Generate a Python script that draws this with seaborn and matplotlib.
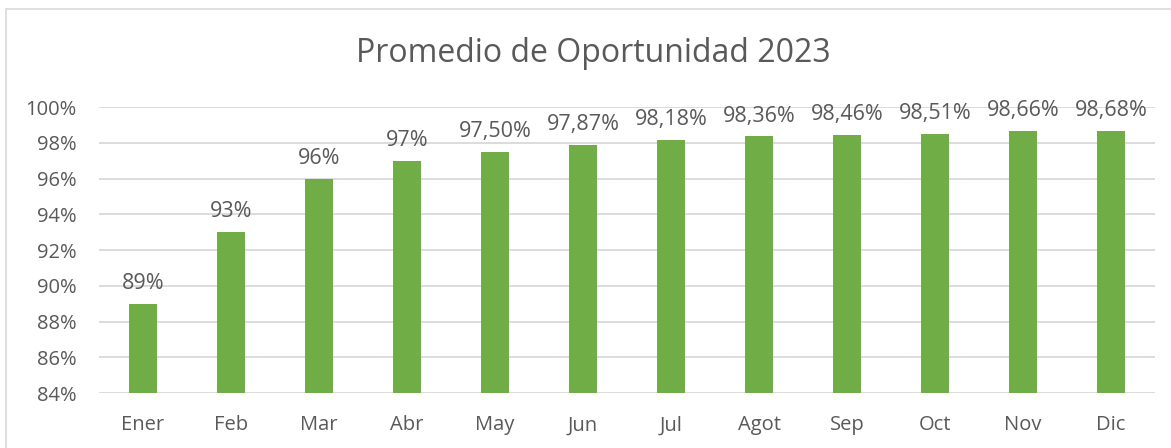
import matplotlib
matplotlib.use("Agg")
import matplotlib.pyplot as plt
import seaborn as sns
import pandas as pd
from matplotlib.patches import Rectangle

months = ["Ener", "Feb", "Mar", "Abr", "May", "Jun", "Jul", "Agot", "Sep", "Oct", "Nov", "Dic"]
values = [89.0, 93.0, 96.0, 97.0, 97.50, 97.87, 98.18, 98.36, 98.46, 98.51, 98.66, 98.68]
value_labels = ["89%", "93%", "96%", "97%", "97,50%", "97,87%", "98,18%", "98,36%",
                "98,46%", "98,51%", "98,66%", "98,68%"]
y_ticks = [84, 86, 88, 90, 92, 94, 96, 98, 100]
y_tick_labels = ["84%", "86%", "88%", "90%", "92%", "94%", "96%", "98%", "100%"]
title = "Promedio de Oportunidad 2023"

sns.set_theme(style="white")
plt.rcParams["font.family"] = ["Open Sans", "DejaVu Sans"]

TEXT = "#595959"
GRID = "#d9d9d9"
BAR = "#70ad47"

df = pd.DataFrame({"mes": months, "valor": values})

fig = plt.figure(figsize=(11.71, 4.48), dpi=100)
ax = fig.add_axes([99 / 1171, 1 - 393 / 448, (1155 - 99) / 1171, (393 - 107) / 448])

sns.barplot(data=df, x="mes", y="valor", color=BAR, width=0.32, ax=ax,
            saturation=1, zorder=3, linewidth=0, edgecolor=BAR)

ax.set_ylim(84, 100)
ax.set_yticks(y_ticks)
ax.set_yticklabels(y_tick_labels, color=TEXT, fontsize=14.5)
ax.tick_params(axis="x", colors=TEXT, labelsize=14.5, length=0, pad=16)
ax.tick_params(axis="y", colors=TEXT, length=0, pad=16)
for lbl in ax.get_xticklabels():
    lbl.set_color(TEXT)
ax.set_xlabel("")
ax.set_ylabel("")
ax.grid(axis="y", color=GRID, linewidth=1.3, zorder=0)
for s in ax.spines.values():
    s.set_visible(False)

for i, (v, t) in enumerate(zip(values, value_labels)):
    ax.annotate(t, (i, v), xytext=(0, 7), textcoords="offset points",
                ha="center", va="bottom", fontsize=15.5, color=TEXT)

fig.text(593 / 1171, 1 - 53 / 448, title, ha="center", va="center",
         fontsize=23, color=TEXT)

fig.patches.append(Rectangle((6 / 1171, -0.1), 1.2, 1 - 9 / 448 + 0.1,
                             transform=fig.transFigure, fill=False,
                             edgecolor=GRID, linewidth=1.2))

fig.savefig("out.png", dpi=100)
